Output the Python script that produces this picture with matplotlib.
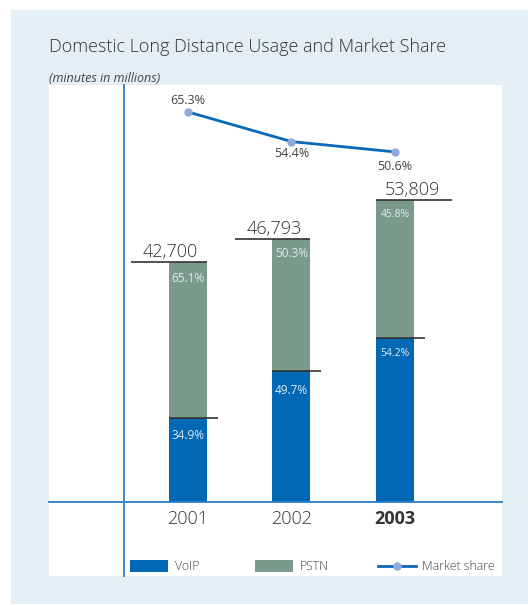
import matplotlib
matplotlib.use("Agg")
import matplotlib.pyplot as plt
from matplotlib.patches import Rectangle
from matplotlib.lines import Line2D
import numpy as np

years = ['2001', '2002', '2003']
totals = [42700, 46793, 53809]
voip_pct = [34.9, 49.7, 54.2]
pstn_pct = [65.1, 50.3, 45.8]
market_share = [65.3, 54.4, 50.6]
total_labels = ['42,700', '46,793', '53,809']

W, H = 528, 605
DPI = 100
VOIP_C = '#0068b4'
PSTN_C = '#7a9a8b'
PANEL_C = '#e4eff5'
AXIS_C = '#2a7cc7'
LINE_C = '#0a68b8'
MARK_C = '#8eaadb'
TXT_C = '#333333'
INBAR_C = '#dfe9f1'
FONT = 'Open Sans'

plt.rcParams['font.family'] = [FONT, 'DejaVu Sans']
plt.rcParams['font.weight'] = 'light'

fig = plt.figure(figsize=(W / DPI, H / DPI), dpi=DPI)
fig.patch.set_facecolor('white')

def fx(x):
    return x / W

def fy(y):
    return 1 - y / H

# light panel
fig.patches.append(Rectangle((fx(11), fy(604)), fx(528) - fx(11), fy(10) - fy(604),
                             transform=fig.transFigure, facecolor=PANEL_C, edgecolor='none', zorder=-2))
# white plot area
fig.patches.append(Rectangle((fx(49), fy(576)), fx(502) - fx(49), fy(85) - fy(576),
                             transform=fig.transFigure, facecolor='white', edgecolor='none', zorder=-1))

# axes
ax_l, ax_r, ax_t, ax_b = 124, 502, 85, 502
ax = fig.add_axes([fx(ax_l), fy(ax_b), fx(ax_r) - fx(ax_l), fy(ax_t) - fy(ax_b)])
ax.set_zorder(2)
ax.set_facecolor('none')
for s in ax.spines.values():
    s.set_visible(False)
ax.set_xticks([])
ax.set_yticks([])

x = np.arange(len(years))
ax.set_xlim(-0.618, 3.034)
ax.set_ylim(0, 74180)

bw = 0.367
voip = np.array(totals) * np.array(voip_pct) / 100
pstn = np.array(totals) - voip
ax.bar(x, voip, width=bw, color=VOIP_C, zorder=2)
ax.bar(x, pstn, width=bw, bottom=voip, color=PSTN_C, zorder=2)

# total lines and labels
for i in range(len(years)):
    if i < 2:
        x0, x1 = x[i] - 0.55, x[i] + bw / 2
        lx = x[i] - 0.17
    else:
        x0, x1 = x[i] - bw / 2, x[i] + 0.55
        lx = x[i] + 0.165
    ax.plot([x0, x1], [totals[i], totals[i]], color='#333333', lw=1.2, zorder=3, solid_capstyle='butt')
    ax.annotate(total_labels[i], (lx, totals[i]), xytext=(0, 1), textcoords='offset pixels',
                ha='center', va='bottom', fontsize=13, color=TXT_C)
    # split line
    ax.plot([x[i] - bw / 2, x[i] + 0.29], [voip[i], voip[i]], color='#333333', lw=1.2, zorder=3,
            solid_capstyle='butt')
    fs = 7.5 if i == 2 else 8.5
    ax.annotate(f'{pstn_pct[i]}%', (x[i], totals[i]), xytext=(0, -17 if i == 0 else -15),
                textcoords='offset pixels', ha='center', va='center', fontsize=fs, color=INBAR_C,
                fontweight='normal', zorder=4)
    ax.annotate(f'{voip_pct[i]}%', (x[i], voip[i]), xytext=(0, [-17, -19, -15][i]),
                textcoords='offset pixels', ha='center', va='center', fontsize=fs, color=INBAR_C,
                fontweight='normal', zorder=4)
    ax.annotate(years[i], (x[i], 0), xytext=(0, -17), textcoords='offset pixels',
                ha='center', va='center', fontsize=13, color=TXT_C,
                fontweight='bold' if i == 2 else 'light', annotation_clip=False)

# market share line
ax2 = ax.twinx()
ax2.set_zorder(3)
ax2.set_facecolor('none')
for s in ax2.spines.values():
    s.set_visible(False)
ax2.set_yticks([])
ax2.set_ylim(-78.1, 75.2)
ax2.plot(x, market_share, color=LINE_C, lw=2, marker='o', markersize=5,
         markerfacecolor=MARK_C, markeredgecolor=MARK_C, zorder=5)
offs = [11, -12, -15]
for i in range(len(years)):
    ax2.annotate(f'{market_share[i]}%', (x[i], market_share[i]), xytext=(0, offs[i]),
                 textcoords='offset pixels', ha='center', va='center', fontsize=9, color='#444444',
                 fontweight='normal')

# axis lines (blue)
fig.lines.append(Line2D([fx(124), fx(124)], [fy(85), fy(576)], transform=fig.transFigure,
                        color=AXIS_C, lw=1.3))
fig.lines.append(Line2D([fx(49), fx(502)], [fy(502), fy(502)], transform=fig.transFigure,
                        color=AXIS_C, lw=1.3))

# title
fig.text(fx(49), fy(47), 'Domestic Long Distance Usage and Market Share', ha='left', va='center',
         fontsize=13, color=TXT_C)
fig.text(fx(49), fy(79), '(minutes in millions)', ha='left', va='center', fontsize=9,
         style='italic', color='#444444', fontweight='normal')

# legend
ly = 566
fig.patches.append(Rectangle((fx(130), fy(572)), fx(168) - fx(130), fy(560) - fy(572),
                             transform=fig.transFigure, facecolor=VOIP_C, edgecolor='none'))
fig.text(fx(175), fy(ly), 'VoIP', ha='left', va='center', fontsize=8.8, color='#444444')
fig.patches.append(Rectangle((fx(255), fy(572)), fx(293) - fx(255), fy(560) - fy(572),
                             transform=fig.transFigure, facecolor=PSTN_C, edgecolor='none'))
fig.text(fx(300), fy(ly), 'PSTN', ha='left', va='center', fontsize=8.8, color='#444444')
fig.lines.append(Line2D([fx(378), fx(416)], [fy(ly), fy(ly)], transform=fig.transFigure,
                        color=LINE_C, lw=2))
fig.lines.append(Line2D([fx(397)], [fy(ly)], transform=fig.transFigure, marker='o',
                        markersize=5, markerfacecolor=MARK_C, markeredgecolor=MARK_C, linestyle='none'))
fig.text(fx(422), fy(ly), 'Market share', ha='left', va='center', fontsize=8.8, color='#444444')

fig.savefig('out.png', dpi=DPI)
